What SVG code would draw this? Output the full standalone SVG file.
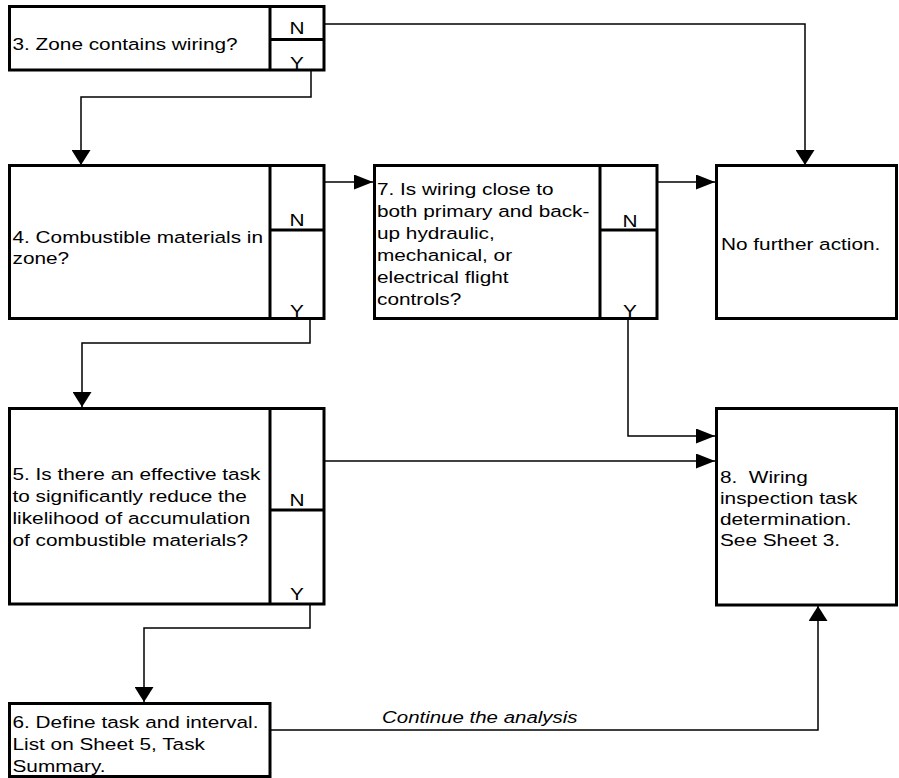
<svg xmlns="http://www.w3.org/2000/svg" width="899" height="778" viewBox="0 0 899 778">
<style>
.box{fill:#fff;stroke:#000;stroke-width:3}
.div{fill:none;stroke:#000;stroke-width:3}
.con{fill:none;stroke:#000;stroke-width:1.5}
.t{font-family:"Liberation Sans",Arial,sans-serif;font-size:16.5px;fill:#000}
.m{text-anchor:middle}
.i{font-style:italic}
</style>
<defs>
<marker id="ah" markerUnits="userSpaceOnUse" markerWidth="19" markerHeight="15" refX="19" refY="7.5" orient="auto"><path d="M0,0 L19,7.5 L0,15 z" fill="#000"/></marker>
<marker id="av" markerUnits="userSpaceOnUse" markerWidth="15" markerHeight="19" refX="15" refY="9.5" orient="auto"><path d="M0,0 L15,9.5 L0,19 z" fill="#000"/></marker>
</defs>
<rect width="899" height="778" fill="#fff"/>
<g id="connectors">
<path class="con" d="M324,24 H805 V165" marker-end="url(#av)"/>
<path class="con" d="M311,71 V97 H81 V165" marker-end="url(#av)"/>
<path class="con" d="M325,182 H373" marker-end="url(#ah)"/>
<path class="con" d="M658,182 H715" marker-end="url(#ah)"/>
<path class="con" d="M310,320 V343 H82 V407" marker-end="url(#av)"/>
<path class="con" d="M628,320 V436 H715" marker-end="url(#ah)"/>
<path class="con" d="M325,461 H715" marker-end="url(#ah)"/>
<path class="con" d="M310,605 V628 H144 V702" marker-end="url(#av)"/>
<path class="con" d="M271,730 H818 V606" marker-end="url(#av)"/>
<text class="t i" transform="matrix(1.24 0 0 1 382 723)" font-size="16">Continue the analysis</text>
</g>
<g id="n3">
<rect class="box" x="9.5" y="6.5" width="314.5" height="63.5"/>
<path class="div" d="M270,6.5 V70 M270,39.5 H324"/>
<text class="t" transform="matrix(1.26 0 0 1 12.5 50)">3. Zone contains wiring?</text>
<text class="t m" transform="matrix(1.26 0 0 1 297 34)">N</text>
<text class="t m" transform="matrix(1.26 0 0 1 297 68.5)">Y</text>
</g>
<g id="n4">
<rect class="box" x="9.5" y="165.5" width="314.5" height="153"/>
<path class="div" d="M270,165.5 V318.5 M270,230 H324"/>
<text class="t" transform="matrix(1.26 0 0 1 12.5 0)"><tspan x="0" y="243">4. Combustible materials in</tspan><tspan x="0" y="264">zone?</tspan></text>
<text class="t m" transform="matrix(1.26 0 0 1 297 226)">N</text>
<text class="t m" transform="matrix(1.26 0 0 1 297 316.5)">Y</text>
</g>
<g id="n7">
<rect class="box" x="374.5" y="165.5" width="282.5" height="153"/>
<path class="div" d="M600,165.5 V318.5 M600,230 H657"/>
<text class="t" transform="matrix(1.26 0 0 1 377 0)"><tspan x="0" y="195">7. Is wiring close to</tspan><tspan x="0" y="217">both primary and back-</tspan><tspan x="0" y="239">up hydraulic,</tspan><tspan x="0" y="261">mechanical, or</tspan><tspan x="0" y="283">electrical flight</tspan><tspan x="0" y="305">controls?</tspan></text>
<text class="t m" transform="matrix(1.26 0 0 1 630 227)">N</text>
<text class="t m" transform="matrix(1.26 0 0 1 630 316.5)">Y</text>
</g>
<g id="nNo">
<rect class="box" x="716.5" y="165.5" width="180" height="153"/>
<text class="t" transform="matrix(1.26 0 0 1 721 250)">No further action.</text>
</g>
<g id="n5">
<rect class="box" x="9.5" y="408.5" width="314.5" height="195.5"/>
<path class="div" d="M270,408.5 V604 M270,510 H324"/>
<text class="t" transform="matrix(1.26 0 0 1 12.5 0)"><tspan x="0" y="480">5. Is there an effective task</tspan><tspan x="0" y="502">to significantly reduce the</tspan><tspan x="0" y="524">likelihood of accumulation</tspan><tspan x="0" y="546">of combustible materials?</tspan></text>
<text class="t m" transform="matrix(1.26 0 0 1 297 506)">N</text>
<text class="t m" transform="matrix(1.26 0 0 1 297 600)">Y</text>
</g>
<g id="n8">
<rect class="box" x="716.5" y="408.5" width="180" height="196.5"/>
<text class="t" xml:space="preserve" transform="matrix(1.26 0 0 1 720 0)"><tspan x="0" y="483">8.  Wiring</tspan><tspan x="0" y="504">inspection task</tspan><tspan x="0" y="525">determination.</tspan><tspan x="0" y="546">See Sheet 3.</tspan></text>
</g>
<g id="n6">
<rect class="box" x="9.5" y="703.5" width="260.5" height="73"/>
<text class="t" transform="matrix(1.26 0 0 1 12.5 0)"><tspan x="0" y="728">6. Define task and interval.</tspan><tspan x="0" y="750">List on Sheet 5, Task</tspan><tspan x="0" y="772">Summary.</tspan></text>
</g>
</svg>
